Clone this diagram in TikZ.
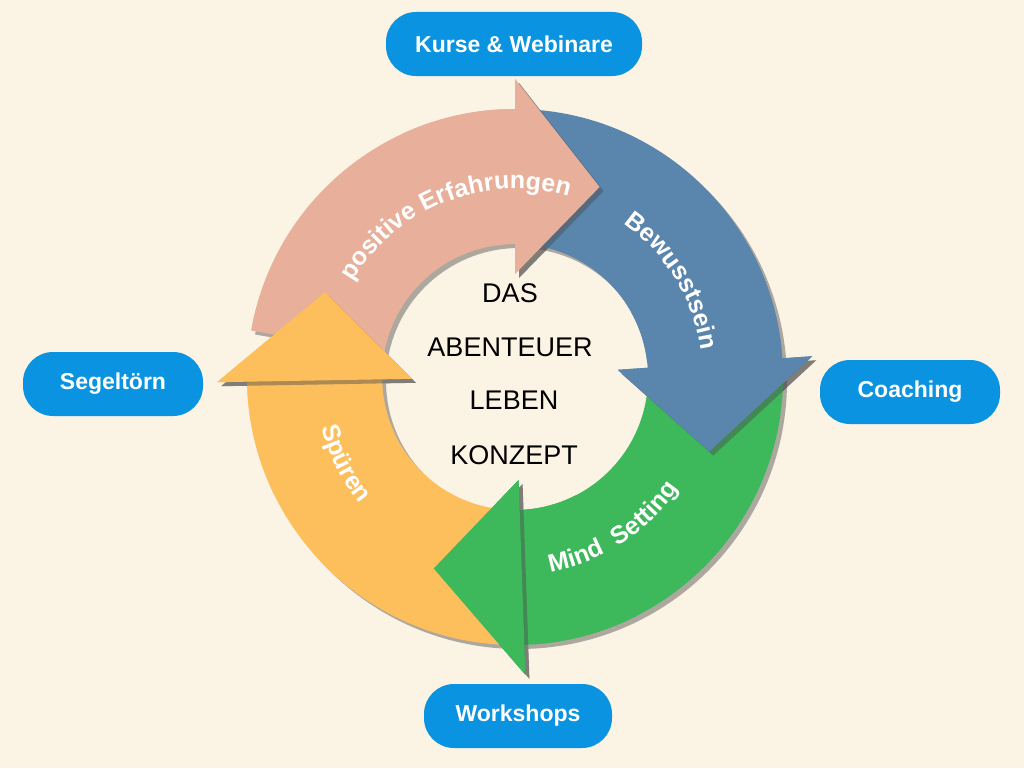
\documentclass[tikz,border=0pt]{standalone}
\usepackage{fontspec}
\setmainfont{Liberation Sans}
\usetikzlibrary{shadows,decorations.text}
\definecolor{bg}{HTML}{FBF3E4}
\definecolor{cpink}{HTML}{E8B09A}
\definecolor{cblue}{HTML}{5A86AE}
\definecolor{cgreen}{HTML}{3DB85B}
\definecolor{corange}{HTML}{FDBE5C}
\definecolor{pill}{HTML}{0A93E0}
\newcommand\ringarrow[4]{%
\fill[#1,arrowshadow] (#2:268) arc[start angle=#2,end angle=#3,radius=268] -- (#3:298) -- (#4:208) -- (#3:103) -- (#3:133) arc[start angle=#3,end angle=#2,radius=133] -- cycle;}
\newcommand\ringhead[3]{%
\fill[#1,arrowshadow] (#2:298) -- (#3:208) -- (#2:103) -- cycle;
\fill[#1] (#2+2:133) arc[start angle=#2+2,end angle=#2+25,radius=133] -- (#2+25:268) arc[start angle=#2+25,end angle=#2+2,radius=268] -- cycle;}
\newcommand\ringtext[4]{%
\path[decorate,decoration={text along path,text align=center,text={|\fontsize{25}{25}\selectfont\bfseries\color{white}|#4}}] (#1:#3) arc[start angle=#1,end angle=#2,radius=#3];}
\tikzset{
  arrowshadow/.style={drop shadow={opacity=0.45,shadow xshift=4pt,shadow yshift=-4pt,fill=black!70}},
  pillbox/.style={fill=pill,rounded corners=30pt,text=white,font=\fontsize{23}{23}\selectfont\bfseries,minimum height=64pt,inner xsep=20pt},
  midtext/.style={font=\fontsize{27}{27}\selectfont,text=black}
}
\begin{document}
\begin{tikzpicture}[x=1pt,y=1pt]
\fill[bg] (0,0) rectangle (1024,-768);
\useasboundingbox (0,0) rectangle (1024,-768);
\begin{scope}[shift={(515,-377)}]
\ringarrow{cpink}{170}{90}{66}
\ringarrow{cblue}{85}{4}{-21}
\ringarrow{cgreen}{0}{-88}{-113}
\ringarrow{corange}{-92}{-179}{-204}
\ringhead{cpink}{90}{66}
\ringhead{cblue}{4}{-21}
\ringhead{cgreen}{-88}{-113}
\ringhead{corange}{-179}{-204}
\ringtext{155}{68}{188}{positive Erfahrungen}
\ringtext{60}{3}{188}{Bewusstsein}
\ringtext{-92}{-22}{198}{Mind\ \ Setting}
\ringtext{186}{228}{200}{Spüren}
\end{scope}
\node[midtext] (t1) at (510,-293) {DAS};
\node[midtext] (t2) at (510,-347) {ABENTEUER};
\node[midtext] (t3) at (514,-400) {LEBEN};
\node[midtext] (t4) at (514,-455) {KONZEPT};
\node[pillbox,minimum width=256pt] (k) at (514,-44) {Kurse \& Webinare};
\node[pillbox,minimum width=180pt] (s) at (113,-384) {Segeltörn};
\node[pillbox,minimum width=180pt] (c) at (910,-392) {Coaching};
\node[pillbox,minimum width=188pt] (w) at (518,-716) {Workshops};
\end{tikzpicture}
\end{document}
